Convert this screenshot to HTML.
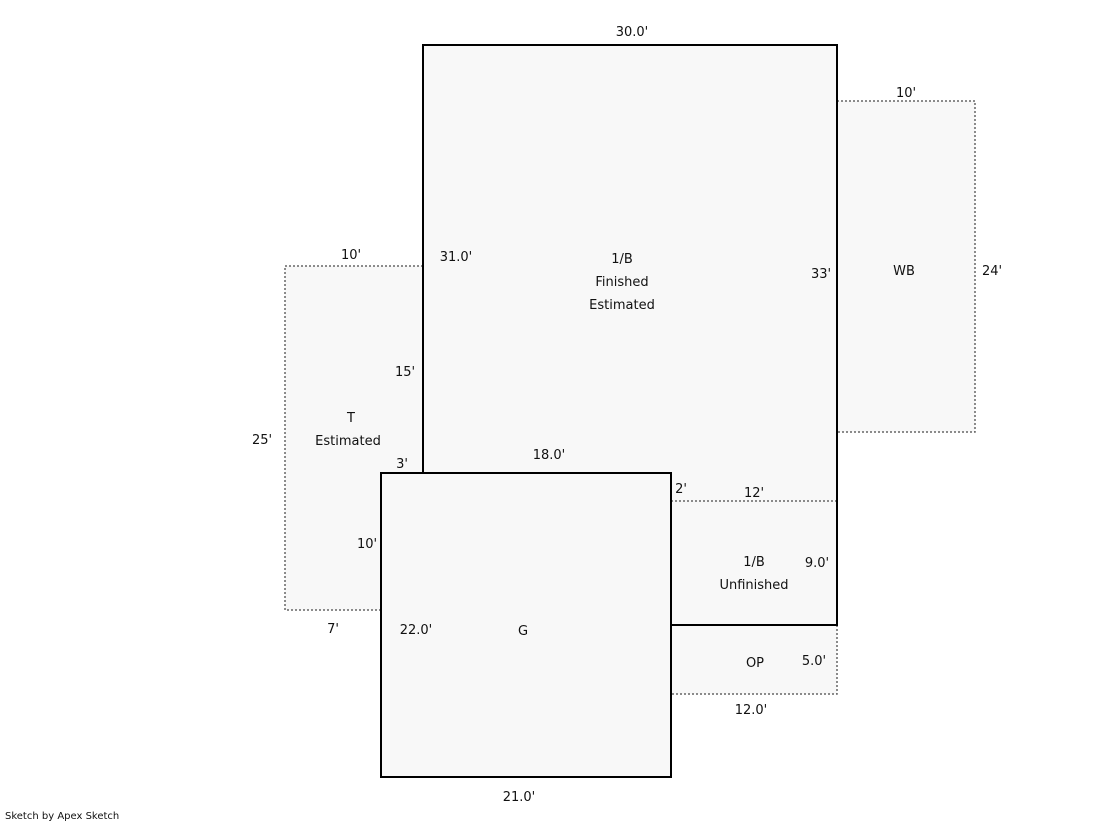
<!DOCTYPE html>
<html><head><style>
body{margin:0;background:#fff;}
svg text{font-family:"DejaVu Sans","Liberation Sans",sans-serif;font-size:13px;fill:#111;}
</style></head><body>
<svg width="1119" height="821" viewBox="0 0 1119 821" xmlns="http://www.w3.org/2000/svg">
<g fill="#f8f8f8">
<rect x="285" y="266" width="138" height="344"/>
<rect x="837" y="101" width="138" height="331"/>
<rect x="423" y="45" width="414" height="580"/>
<rect x="671" y="625" width="166" height="69"/>
<rect x="381" y="473" width="290" height="304"/>
</g>
<g fill="none" stroke="#666" stroke-width="1.5" stroke-dasharray="2,2">
<polyline points="423,266 285,266 285,610 381,610"/>
<polyline points="837,101 975,101 975,432 837,432"/>
<line x1="671" y1="501" x2="837" y2="501"/>
<polyline points="837,625 837,694 671,694"/>
</g>
<g fill="none" stroke="#000" stroke-width="2">
<polyline points="423,473 423,45 837,45 837,625 671,625"/>
<rect x="381" y="473" width="290" height="304"/>
</g>
<g text-anchor="middle">
<text x="632" y="36">30.0'</text>
<text x="906" y="97">10'</text>
<text x="351" y="259">10'</text>
<text x="456" y="261">31.0'</text>
<text x="622" y="263">1/B</text>
<text x="622" y="286">Finished</text>
<text x="622" y="309">Estimated</text>
<text x="821" y="278">33'</text>
<text x="904" y="275">WB</text>
<text x="992" y="275">24'</text>
<text x="405" y="376">15'</text>
<text x="351" y="422">T</text>
<text x="348" y="445">Estimated</text>
<text x="262" y="444">25'</text>
<text x="402" y="468">3'</text>
<text x="549" y="459">18.0'</text>
<text x="681" y="493">2'</text>
<text x="754" y="497">12'</text>
<text x="367" y="548">10'</text>
<text x="754" y="566">1/B</text>
<text x="754" y="589">Unfinished</text>
<text x="817" y="567">9.0'</text>
<text x="333" y="633">7'</text>
<text x="416" y="634">22.0'</text>
<text x="523" y="635">G</text>
<text x="755" y="667">OP</text>
<text x="814" y="665">5.0'</text>
<text x="751" y="714">12.0'</text>
<text x="519" y="801">21.0'</text>
</g>
<text x="5" y="819" style="font-size:10px">Sketch by Apex Sketch</text>
</svg>
</body></html>
